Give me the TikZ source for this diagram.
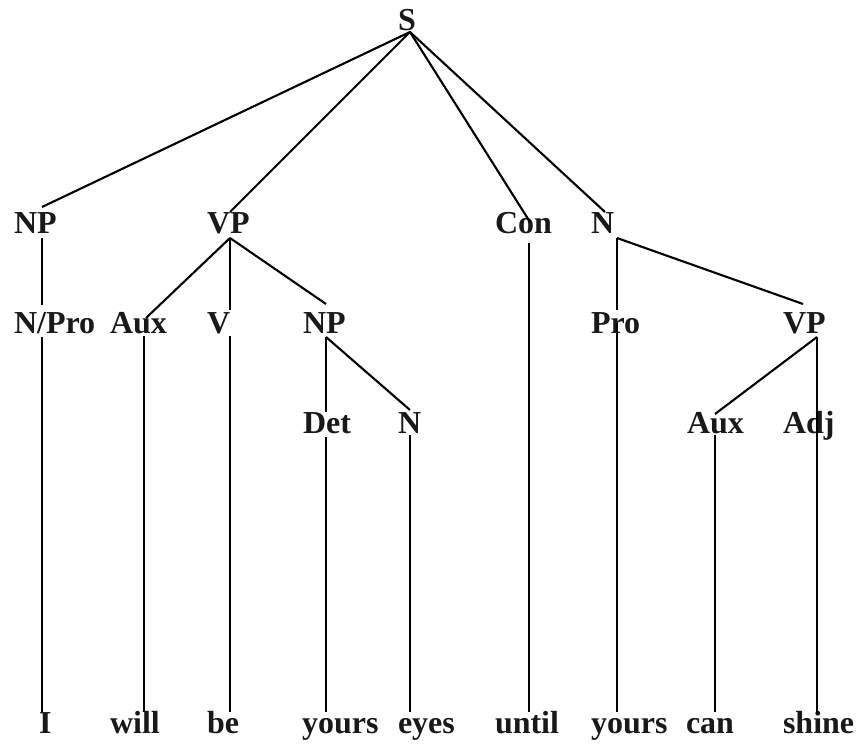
\documentclass[tikz,border=0pt]{standalone}
\usepackage{fontspec}
\setmainfont{Liberation Serif}
\definecolor{txt}{rgb}{0.1,0.1,0.1}
\begin{document}
\begin{tikzpicture}[x=1pt,y=-1pt,
  lab/.style={anchor=base west,inner sep=0pt,outer sep=0pt,text=txt,
    font=\fontsize{32}{38}\selectfont\bfseries},
  edge/.style={draw=black,line width=2.1pt}]
\useasboundingbox (0,0) rectangle (858,746);
% labels
\node[lab] (S) at (398,31) {S};
\node[lab] (NPa) at (14,233) {NP};
\node[lab] (VPa) at (207,233) {VP};
\node[lab] (Con) at (495,233) {Con};
\node[lab] (Na) at (591,233) {N};
\node[lab] (NPro) at (14,333) {N/Pro};
\node[lab] (Auxa) at (110,333) {Aux};
\node[lab] (V) at (207,333) {V};
\node[lab] (NPb) at (303,333) {NP};
\node[lab] (Pro) at (591,333) {Pro};
\node[lab] (VPb) at (783,333) {VP};
\node[lab] (Det) at (303,433) {Det};
\node[lab] (Nb) at (398,433) {N};
\node[lab] (Auxb) at (687,433) {Aux};
\node[lab] (Adj) at (783,433) {Adj};
\node[lab] (wI) at (39,733) {I};
\node[lab] (wwill) at (110,733) {will};
\node[lab] (wbe) at (207,733) {be};
\node[lab] (wyoursa) at (302,733) {yours};
\node[lab] (weyes) at (398,733) {eyes};
\node[lab] (wuntil) at (495,733) {until};
\node[lab] (wyoursb) at (591,733) {yours};
\node[lab] (wcan) at (686,733) {can};
\node[lab] (wshine) at (783,733) {shine};
% connection points
\coordinate (S-b) at (410,32);
\coordinate (NPa-t) at (42,207);   \coordinate (NPa-b) at (42,238);
\coordinate (VPa-t) at (230,212);  \coordinate (VPa-b) at (230,238);
\coordinate (Con-t) at (530,222);  \coordinate (Con-b) at (529,243);
\coordinate (Na-t) at (605,212);   \coordinate (Na-b) at (617,238);
\coordinate (NPro-t) at (42,305);  \coordinate (NPro-b) at (42,337);
\coordinate (Auxa-t) at (146,318); \coordinate (Auxa-b) at (144,336);
\coordinate (V-t) at (230,310);    \coordinate (V-b) at (230,336);
\coordinate (NPb-t) at (326,304);  \coordinate (NPb-b) at (326,337);
\coordinate (Pro-t) at (617,310);  \coordinate (Pro-b) at (617,323);
\coordinate (VPb-t) at (803,304);  \coordinate (VPb-b) at (817,337);
\coordinate (Det-t) at (326,412);  \coordinate (Det-b) at (326,437);
\coordinate (Nb-t) at (410,410);   \coordinate (Nb-b) at (410,435);
\coordinate (Auxb-t) at (715,414); \coordinate (Auxb-b) at (715,435);
\coordinate (Adj-t) at (817,425);  \coordinate (Adj-b) at (817,425);
\coordinate (wI-t) at (42,712);
\coordinate (wwill-t) at (144,712);
\coordinate (wbe-t) at (230,712);
\coordinate (wyoursa-t) at (326,712);
\coordinate (weyes-t) at (410,712);
\coordinate (wuntil-t) at (529,712);
\coordinate (wyoursb-t) at (617,712);
\coordinate (wcan-t) at (715,712);
\coordinate (wshine-t) at (817,713);
% edges
\foreach \a/\b in {S/NPa,S/VPa,S/Con,S/Na,
  NPa/NPro,VPa/Auxa,VPa/V,VPa/NPb,Na/Pro,Na/VPb,
  NPb/Det,NPb/Nb,VPb/Auxb,VPb/Adj,
  NPro/wI,Auxa/wwill,V/wbe,Det/wyoursa,Nb/weyes,Con/wuntil,
  Pro/wyoursb,Auxb/wcan,Adj/wshine}
  \draw[edge] (\a-b) -- (\b-t);
\end{tikzpicture}
\end{document}
